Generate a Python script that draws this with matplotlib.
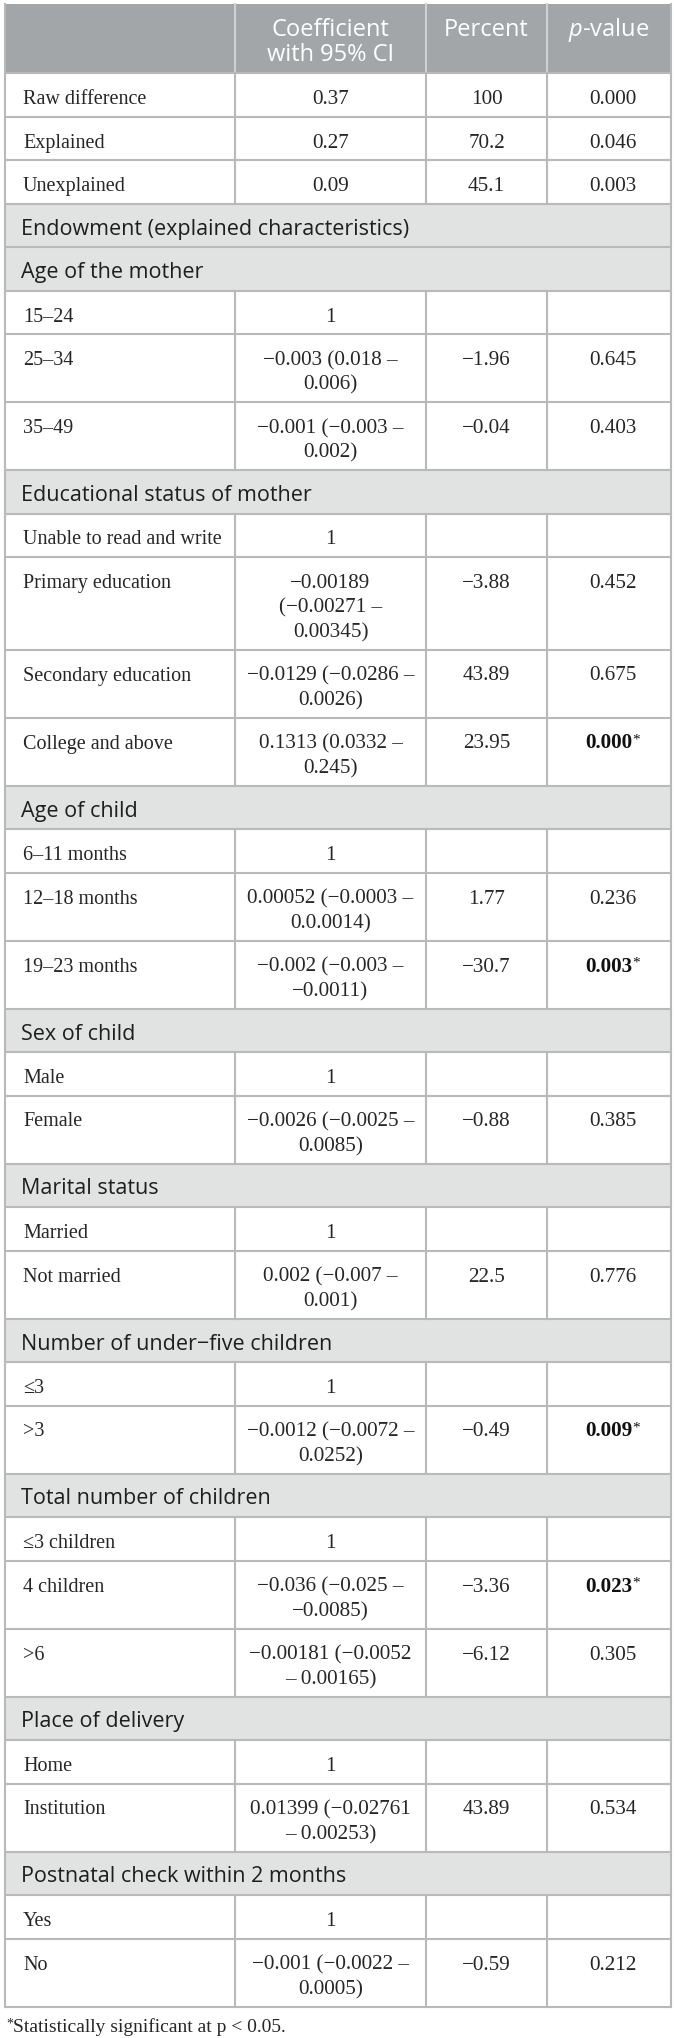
import matplotlib.pyplot as plt

plt.rcParams["mathtext.fontset"] = "custom"
plt.rcParams["mathtext.it"] = "Open Sans:italic"
plt.rcParams["mathtext.rm"] = "Open Sans"

# ---------- data ----------
headers = ["Coefficient\nwith 95% CI", "Percent", "$p$-value"]

labels = [
    "Raw difference", "Explained", "Unexplained",
    "Endowment (explained characteristics)",
    "Age of the mother", "15–24", "25–34", "35–49",
    "Educational status of mother", "Unable to read and write",
    "Primary education", "Secondary education", "College and above",
    "Age of child", "6–11 months", "12–18 months", "19–23 months",
    "Sex of child", "Male", "Female",
    "Marital status", "Married", "Not married",
    "Number of under−five children", "≤3", ">3",
    "Total number of children", "≤3 children", "4 children", ">6",
    "Place of delivery", "Home", "Institution",
    "Postnatal check within 2 months", "Yes", "No",
]

# None marks a section heading row
coefs = [
    "0.37", "0.27", "0.09",
    None,
    None, "1", "−0.003 (0.018 –\n0.006)", "−0.001 (−0.003 –\n0.002)",
    None, "1", "−0.00189\n(−0.00271 –\n0.00345)",
    "−0.0129 (−0.0286 –\n0.0026)", "0.1313 (0.0332 –\n0.245)",
    None, "1", "0.00052 (−0.0003 –\n0.0.0014)", "−0.002 (−0.003 –\n−0.0011)",
    None, "1", "−0.0026 (−0.0025 –\n0.0085)",
    None, "1", "0.002 (−0.007 –\n0.001)",
    None, "1", "−0.0012 (−0.0072 –\n0.0252)",
    None, "1", "−0.036 (−0.025 –\n−0.0085)", "−0.00181 (−0.0052\n– 0.00165)",
    None, "1", "0.01399 (−0.02761\n– 0.00253)",
    None, "1", "−0.001 (−0.0022 –\n0.0005)",
]

percents = [
    "100", "70.2", "45.1",
    None,
    None, "", "−1.96", "−0.04",
    None, "", "−3.88", "43.89", "23.95",
    None, "", "1.77", "−30.7",
    None, "", "−0.88",
    None, "", "22.5",
    None, "", "−0.49",
    None, "", "−3.36", "−6.12",
    None, "", "43.89",
    None, "", "−0.59",
]

pvalues = [
    "0.000", "0.046", "0.003",
    None,
    None, "", "0.645", "0.403",
    None, "", "0.452", "0.675", "0.000",
    None, "", "0.236", "0.003",
    None, "", "0.385",
    None, "", "0.776",
    None, "", "0.009",
    None, "", "0.023", "0.305",
    None, "", "0.534",
    None, "", "0.212",
]

significant = ["College and above", "19–23 months", ">3", "4 children"]

footnote = "Statistically significant at p < 0.05."

# ---------- layout / style ----------
W, H, DPI = 674, 2038, 100
col_x = [5, 235, 426, 547, 671]
top = 4
header_h = 69
base_h = 43.5
line_step = 24.5
pad = 18

header_bg = "#a3a6a8"
band_bg = "#e1e3e2"
grid = "#b9b9b9"
body_col = "#262626"
lw = 1.5
fs_lab, fs_num = 14.5, 15.2

serif = ["Liberation Serif", "DejaVu Serif"]
sans = ["Open Sans", "DejaVu Sans"]

fig = plt.figure(figsize=(W / DPI, H / DPI), dpi=DPI)
ax = fig.add_axes([0, 0, 1, 1])
ax.set_xlim(0, W)
ax.set_ylim(H, 0)
ax.axis("off")

left, right = col_x[0], col_x[-1]
centers = [(col_x[i] + col_x[i + 1]) / 2 for i in range(1, 4)]

# header
ax.add_patch(plt.Rectangle((left, top), right - left, header_h,
                           facecolor=header_bg, edgecolor="none"))
for xc, h in zip(centers, headers):
    for k, ln in enumerate(h.split("\n")):
        ax.text(xc, top + 32 + k * 25, ln, ha="center", va="baseline",
                fontsize=17, color="white", family=sans)
for x in col_x[1:4]:
    ax.plot([x, x], [top, top + header_h], color="#cfd1d2", lw=lw)

# body rows
y = top + header_h
for lab, c, p, pv in zip(labels, coefs, percents, pvalues):
    if c is None:
        h = base_h
        ax.add_patch(plt.Rectangle((left, y), right - left, h,
                                   facecolor=band_bg, edgecolor="none"))
        ax.text(left + 16, y + 31, lab, ha="left", va="baseline",
                fontsize=15.5, color="#1e1e1e", family=sans)
    else:
        nlines = c.count("\n") + 1
        h = base_h + line_step * (nlines - 1)
        ax.text(left + pad, y + 31, lab, ha="left", va="baseline",
                fontsize=fs_lab, color=body_col, family=serif)
        for k, ln in enumerate(c.split("\n")):
            ax.text(centers[0], y + 31 + k * line_step, ln, ha="center",
                    va="baseline", fontsize=fs_num, color=body_col, family=serif)
        ax.text(centers[1], y + 31, p, ha="center", va="baseline",
                fontsize=fs_num, color=body_col, family=serif)
        if lab in significant:
            t = ax.text(centers[2], y + 31, pv, ha="center", va="baseline",
                        fontsize=fs_num, color="#111111", family=serif,
                        fontweight="bold")
            ax.annotate("*", xy=(1.0, 1.0), xycoords=t, ha="left", va="top",
                        fontsize=11, color="#111111", family=serif)
        else:
            ax.text(centers[2] + 4, y + 31, pv, ha="center", va="baseline",
                    fontsize=fs_num, color=body_col, family=serif)
        for x in col_x[1:4]:
            ax.plot([x, x], [y, y + h], color=grid, lw=lw)
    ax.plot([left, right], [y, y], color=grid, lw=lw)
    y += h

ax.plot([left, right], [y, y], color=grid, lw=lw)
ax.plot([left, left], [top, y], color=grid, lw=lw)
ax.plot([right, right], [top, y], color=grid, lw=lw)

# footnote
ft = ax.text(left + 8, y + 25, footnote, ha="left", va="baseline",
             fontsize=14, color=body_col, family=serif)
ax.annotate("*", xy=(0.0, 1.0), xycoords=ft, ha="right", va="top",
            fontsize=10, color=body_col, family=serif)

fig.savefig("out.png", dpi=DPI)
